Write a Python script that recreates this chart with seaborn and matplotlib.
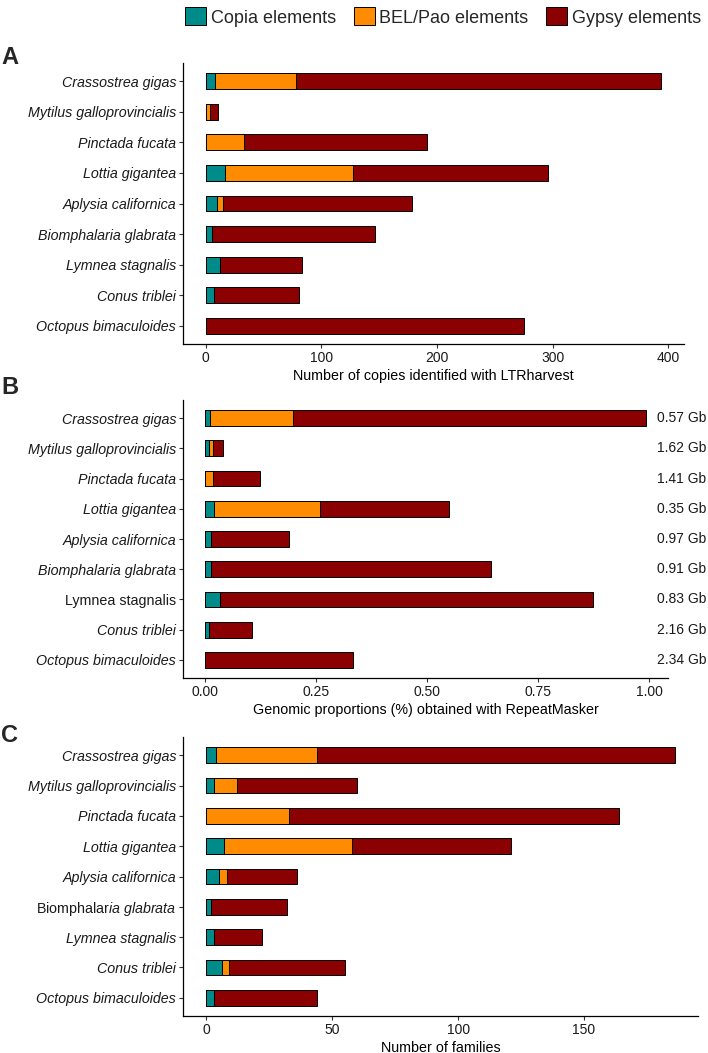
import pandas as pd
import matplotlib
matplotlib.use('Agg')
import matplotlib.pyplot as plt
import matplotlib.transforms as mtransforms
from matplotlib.patches import Patch
import seaborn as sns

sns.set_theme(style='ticks')
plt.rcParams['font.family'] = ['Liberation Sans', 'DejaVu Sans']
plt.rcParams['mathtext.fontset'] = 'custom'
plt.rcParams['mathtext.rm'] = 'Liberation Sans'
plt.rcParams['mathtext.it'] = 'Liberation Sans:italic'

# %% data
species = ['Crassostrea gigas', 'Mytilus galloprovincialis', 'Pinctada fucata',
           'Lottia gigantea', 'Aplysia californica', 'Biomphalaria glabrata',
           'Lymnea stagnalis', 'Conus triblei', 'Octopus bimaculoides']

# A: number of copies (LTRharvest)
copia_a = [8, 0, 0, 17, 10, 5, 12, 7, 0]
bel_a = [70, 4, 33, 110, 5, 0, 0, 0, 0]
gypsy_a = [316, 7, 158, 169, 163, 141, 71, 74, 275]

# B: genomic proportions (RepeatMasker)
copia_b = [0.011, 0.009, 0.0, 0.021, 0.014, 0.014, 0.033, 0.008, 0.0]
bel_b = [0.188, 0.008, 0.017, 0.237, 0.0, 0.0, 0.0, 0.0, 0.0]
gypsy_b = [0.794, 0.024, 0.107, 0.292, 0.175, 0.629, 0.840, 0.098, 0.333]
genome_size = ['0.57 Gb', '1.62 Gb', '1.41 Gb', '0.35 Gb', '0.97 Gb',
               '0.91 Gb', '0.83 Gb', '2.16 Gb', '2.34 Gb']

# C: number of families
copia_c = [4, 3, 0, 7, 5, 2, 3, 6, 3]
bel_c = [40, 9, 33, 51, 3, 0, 0, 3, 0]
gypsy_c = [142, 48, 131, 63, 28, 30, 19, 46, 41]

ticks_a = [0, 100, 200, 300, 400]
ticks_b = [0, 0.25, 0.5, 0.75, 1.0]
ticks_c = [0, 50, 100, 150]

COPIA = '#008B8B'
BEL = '#FF8C00'
GYPSY = '#8B0000'
TXT = '#1a1a1a'

W, H = 708, 1053
fig = plt.figure(figsize=(W / 100, H / 100), dpi=100)


def px_axes(left, right, top, bottom):
    return fig.add_axes([left / W, 1 - bottom / H, (right - left) / W, (bottom - top) / H])


def stacked(ax, copia, bel, gypsy, ticks, xlabel, tick_fmt, labels):
    df = pd.DataFrame({'species': species, 'copia': copia, 'bel': bel, 'gypsy': gypsy})
    df['c1'] = df['copia']
    df['c2'] = df['c1'] + df['bel']
    df['c3'] = df['c2'] + df['gypsy']
    for col, color in [('c3', GYPSY), ('c2', BEL), ('c1', COPIA)]:
        sns.barplot(data=df, x=col, y='species', orient='h', color=color, saturation=1,
                    width=0.52, edgecolor='black', linewidth=0.7, ax=ax)
    m = df['c3'].max()
    ax.set_xlim(-0.05 * m, 1.05 * m)
    ax.set_ylim(len(species) - 0.4, -0.6)
    ax.set_xticks(ticks)
    ax.set_xticklabels([tick_fmt(t) for t in ticks], fontsize=10, color=TXT)
    ax.set_yticks(range(len(species)))
    ax.set_yticklabels(labels, fontsize=10.3, color=TXT)
    ax.set_xlabel(xlabel, fontsize=10.3, color='black', labelpad=3)
    ax.set_ylabel('')
    sns.despine(ax=ax)
    for sp in ['left', 'bottom']:
        ax.spines[sp].set_linewidth(0.9)
        ax.spines[sp].set_color('black')
    ax.tick_params(length=3, width=0.8, color='#333333', pad=2)
    return ax


def italicize(ax, upright=()):
    for lab in ax.get_yticklabels():
        if lab.get_text() not in upright:
            lab.set_fontstyle('italic')


# panel A
ax_a = px_axes(183, 684, 63, 344)
stacked(ax_a, copia_a, bel_a, gypsy_a, ticks_a,
        'Number of copies identified with LTRharvest', lambda t: f'{t:d}', species)
italicize(ax_a)

# panel B
ax_b = px_axes(183, 668, 400, 678)
stacked(ax_b, copia_b, bel_b, gypsy_b, ticks_b,
        'Genomic proportions (%) obtained with RepeatMasker', lambda t: f'{t:.2f}', species)
italicize(ax_b, upright=('Lymnea stagnalis',))
trans = mtransforms.blended_transform_factory(ax_b.transAxes, ax_b.transData)
for i, g in enumerate(genome_size):
    ax_b.text(0.977, i, g, transform=trans, ha='left', va='center',
              fontsize=10, color=TXT, clip_on=False)

# panel C
labels_c = [s if s != 'Biomphalaria glabrata' else r'Biomphalar$\mathit{ia\ glabrata}$'
            for s in species]
ax_c = px_axes(183, 698, 737, 1016)
stacked(ax_c, copia_c, bel_c, gypsy_c, ticks_c,
        'Number of families', lambda t: f'{t:d}', labels_c)
italicize(ax_c, upright=(labels_c[5],))

# panel letters
for letter, y in [('A', 58), ('B', 387), ('C', 735)]:
    fig.text(1 / W, 1 - y / H, letter, fontsize=17, fontweight='bold',
             ha='left', va='center')

# legend
handles = [Patch(facecolor=COPIA, edgecolor='black', linewidth=0.7, label='Copia elements'),
           Patch(facecolor=BEL, edgecolor='black', linewidth=0.7, label='BEL/Pao elements'),
           Patch(facecolor=GYPSY, edgecolor='black', linewidth=0.7, label='Gypsy elements')]
fig.legend(handles=handles, ncol=3, loc='center', bbox_to_anchor=(443 / W, 1 - 17 / H),
           frameon=False, fontsize=13, handlelength=1.15, handleheight=1.15,
           handletextpad=0.25, columnspacing=1.0, borderpad=0)

fig.savefig('out.png', dpi=100)
